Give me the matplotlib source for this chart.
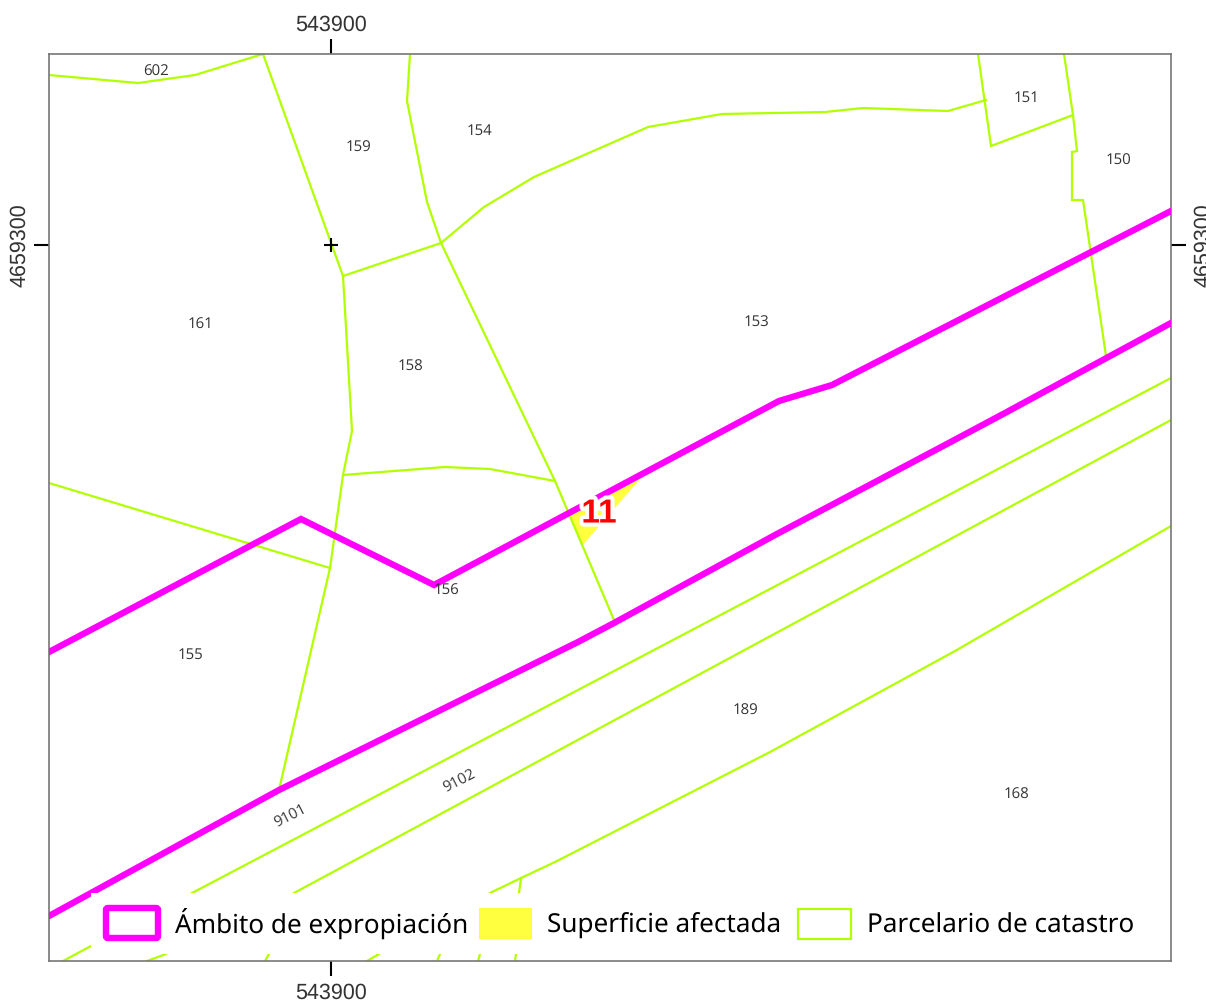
import matplotlib
matplotlib.use("Agg")
import matplotlib.pyplot as plt
import matplotlib.patheffects as pe
from matplotlib.patches import FancyBboxPatch, Rectangle, Polygon

plt.rcParams["text.hinting"] = "no_hinting"

# sheet coordinates
parcel_lines = [
    [(49, 75), (138, 83), (195, 75), (263, 54)],
    [(263, 54), (343, 276), (352, 431), (343, 475), (330, 568), (279, 790)],
    [(49, 483), (330, 568)],
    [(343, 276), (441, 243), (484, 207), (534, 177), (648, 127), (722, 114), (825, 112), (863, 108), (948, 111), (986, 100)],
    [(410, 54), (407, 101), (427, 202), (441, 243), (555, 481), (614, 620)],
    [(343, 475), (445, 467), (490, 469), (555, 481)],
    [(978, 54), (991, 146), (1073, 115)],
    [(1064, 54), (1073, 115), (1077, 151), (1072, 152), (1072, 200), (1083, 200), (1106, 356)],
    [(192, 893), (1171, 378)],
    [(294, 893), (1171, 420)],
    [(490, 893), (521, 878), (555, 862), (770, 752), (955, 651), (1171, 526)],
    [(521, 878), (519, 893)],
    [(63, 961), (91, 946)],
    [(147, 961), (166, 954)],
    [(265, 961), (269, 954)],
    [(367, 961), (379, 954)],
    [(437, 961), (440, 954)],
    [(478, 961), (480, 954)],
    [(515, 961), (516, 954)],
]

expropiacion_lines = [
    [(49, 652), (301, 519), (434, 585), (779, 401), (832, 385), (1171, 211)],
    [(49, 916), (279, 790), (578, 642), (614, 623), (775, 535), (945, 445), (1005, 413), (1171, 323)],
]

afectada = [(570, 515), (640, 479), (582, 546)]

parcel_ids = ["602", "159", "154", "151", "150", "161", "153", "158", "156", "155", "189", "168"]
parcel_x = [156, 359, 480, 1027, 1119, 201, 757, 411, 447, 191, 746, 1017]
parcel_y = [72, 148, 131, 98, 161, 325, 323, 367, 591, 655, 711, 795]

road_ids = ["9101", "9102"]
road_x = [291, 460]
road_y = [817, 782]

xtick = 331
ytick = 245
xtick_label = "543900"
ytick_label = "4659300"

PARCEL = "#b2ff00"
MAGENTA = "#ff00ff"
YELLOW = "#ffff40"
FRAME = "#777777"

fig = plt.figure(figsize=(12.06, 10.01), dpi=100)
ax = fig.add_axes([49 / 1206, 1 - 961 / 1001, (1171 - 49) / 1206, (961 - 54) / 1001])
ax.set_xlim(49, 1171)
ax.set_ylim(961, 54)

ax.add_patch(Polygon(afectada, closed=True, facecolor=YELLOW, edgecolor="none", zorder=1))

for line in parcel_lines:
    ax.plot([p[0] for p in line], [p[1] for p in line], color=PARCEL, lw=1.6, zorder=2, solid_joinstyle="miter")
for line in expropiacion_lines:
    ax.plot([p[0] for p in line], [p[1] for p in line], color=MAGENTA, lw=4.6, zorder=3, solid_joinstyle="miter")

# graticule cross
ax.plot([xtick], [ytick], marker="+", color="black", ms=10.5, mew=1.5, zorder=4)

for t, x, y in zip(parcel_ids, parcel_x, parcel_y):
    ax.text(x, y, t, family="Open Sans", fontsize=10.8, color="#333333", ha="center", va="center", zorder=5)
for t, x, y in zip(road_ids, road_x, road_y):
    ax.text(x, y, t, family="Open Sans", fontsize=10.8, color="#333333", ha="center", va="center", rotation=27, zorder=5)

ax.text(599, 514, "11", family="Liberation Sans", weight="bold", fontsize=24, color="red", ha="center", va="center", zorder=6,
        path_effects=[pe.withStroke(linewidth=6, foreground="white")])

# legend, drawn by hand on a white strip
ax.add_patch(Rectangle((91, 893), 1075, 61, facecolor="white", edgecolor="none", zorder=7))
ax.add_patch(FancyBboxPatch((106, 908), 52, 30, boxstyle="round,pad=0,rounding_size=2", facecolor="white", edgecolor=MAGENTA, lw=4.6, zorder=8))
ax.add_patch(Rectangle((479, 908), 53, 31, facecolor=YELLOW, edgecolor="none", zorder=8))
ax.add_patch(Rectangle((798.5, 908.5), 53, 30, facecolor="white", edgecolor=PARCEL, lw=1.6, zorder=8))
legend_labels = ["Ámbito de expropiación", "Superficie afectada", "Parcelario de catastro"]
legend_x = [175, 547, 867]
for t, x in zip(legend_labels, legend_x):
    ax.text(x, 933, t, family="Noto Sans", fontsize=18.8, color="black", ha="left", va="baseline", zorder=9)

for s in ax.spines.values():
    s.set_color(FRAME)
    s.set_linewidth(1.2)

ax.set_xticks([xtick], [xtick_label])
ax.set_yticks([ytick], [ytick_label])
ax.tick_params(axis="both", length=10.5, width=1.5, color="black", labelsize=15.5, labelcolor="#333333", pad=3,
               top=True, right=True, labeltop=True, labelright=True, bottom=True, left=True)
ax.tick_params(axis="x", which="major", bottom=True)
ax.tick_params(axis="y", labelrotation=90)
for lab in ax.get_xticklabels() + ax.get_yticklabels():
    lab.set_family("Liberation Sans")
for lab in ax.get_yticklabels():
    lab.set_va("center")
# the bottom label sits a bit lower, the right one runs off the sheet like the original
for tick in ax.xaxis.get_major_ticks():
    tick.label1.set_y(-0.003)
for tick in ax.yaxis.get_major_ticks():
    tick.label2.set_x(1.0035)

fig.savefig("out.png", dpi=100)
